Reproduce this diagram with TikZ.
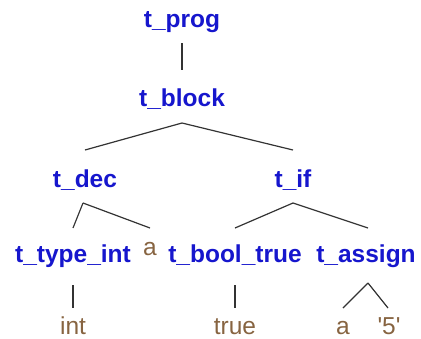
\documentclass[tikz,border=0pt]{standalone}
\usepackage{fontspec}
\setmainfont{Liberation Sans}
\definecolor{nt}{RGB}{22,22,205}
\definecolor{lf}{RGB}{135,100,65}
\begin{document}
\begin{tikzpicture}[x=1pt,y=-1pt,
  nterm/.style={anchor=base,inner sep=0pt,font=\fontsize{24.5}{28}\selectfont\bfseries,text=nt},
  leaf/.style={anchor=base,inner sep=0pt,font=\fontsize{24.5}{28}\selectfont,text=lf},
  edge/.style={draw=black!80,line width=1.2pt}]
\useasboundingbox (0,0) rectangle (421,338);
\node[nterm] (prog)   at (182,27)  {t\_prog};
\node[nterm] (block)  at (182,106) {t\_block};
\node[nterm] (dec)    at (85,187)  {t\_dec};
\node[nterm] (if)     at (293,187) {t\_if};
\node[nterm] (tint)   at (73,262)  {t\_type\_int};
\node[leaf]  (va)     at (150,255) {a};
\node[nterm] (bool)   at (235,262) {t\_bool\_true};
\node[nterm] (assign) at (366,262) {t\_assign};
\node[leaf]  (int)    at (73,334)  {int};
\node[leaf]  (true)   at (235,334) {true};
\node[leaf]  (a2)     at (343,334) {a};
\node[leaf]  (five)   at (389,334) {\textquotesingle5\textquotesingle};

\draw[edge] ([yshift=-16pt]prog.base) -- ([yshift=36pt]block.base);
\draw[edge] ([yshift=-17pt]block.base) -- ([yshift=37pt]dec.base);
\draw[edge] ([yshift=-17pt]block.base) -- ([yshift=37pt]if.base);
\draw[edge] ([yshift=-16pt,xshift=-2pt]dec.base) -- ([yshift=34pt]tint.base);
\draw[edge] ([yshift=-16pt,xshift=-2pt]dec.base) -- ([yshift=27pt]va.base);
\draw[edge] ([yshift=-16pt]if.base) -- ([yshift=34pt]bool.base);
\draw[edge] ([yshift=-16pt]if.base) -- ([yshift=34pt,xshift=2pt]assign.base);
\draw[edge] ([yshift=-23pt]tint.base) -- ([yshift=26pt]int.base);
\draw[edge] ([yshift=-23pt]bool.base) -- ([yshift=26pt]true.base);
\draw[edge] ([yshift=-21pt,xshift=2pt]assign.base) -- ([yshift=26pt]a2.base);
\draw[edge] ([yshift=-21pt,xshift=2pt]assign.base) -- ([yshift=26pt,xshift=-1pt]five.base);
\end{tikzpicture}
\end{document}
